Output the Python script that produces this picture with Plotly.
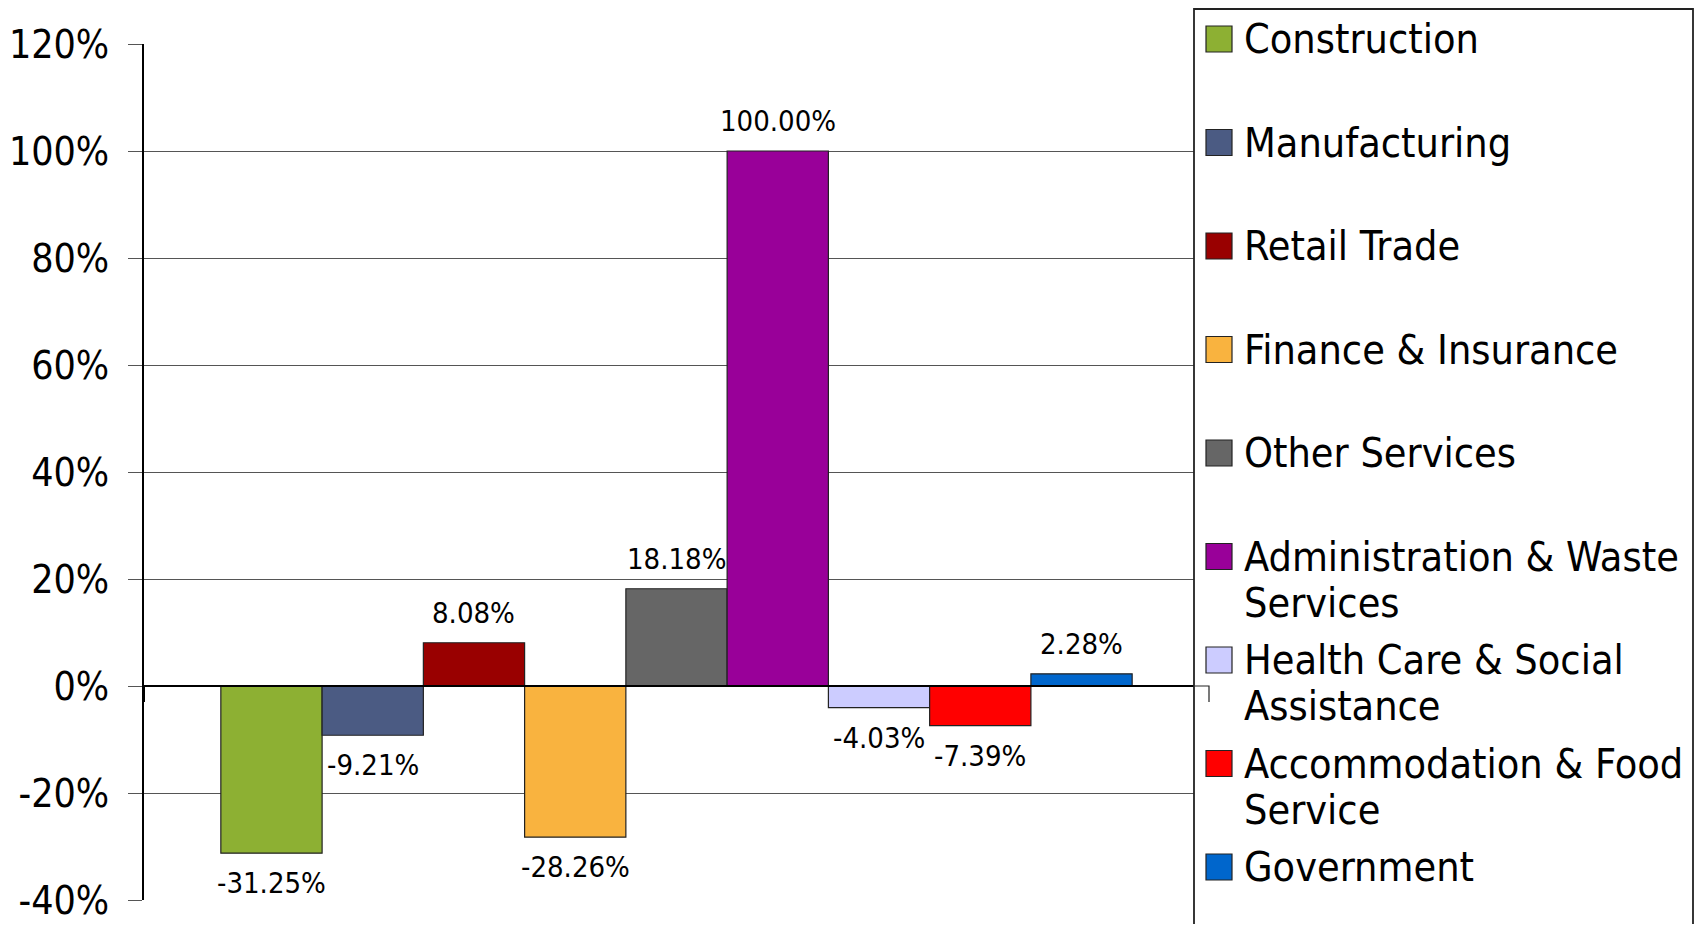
import textwrap
import plotly.graph_objects as go

# ---- data ----
categories = [
    "Construction",
    "Manufacturing",
    "Retail Trade",
    "Finance & Insurance",
    "Other Services",
    "Administration & Waste Services",
    "Health Care & Social Assistance",
    "Accommodation & Food Service",
    "Government",
]
values = [-31.25, -9.21, 8.08, -28.26, 18.18, 100.00, -4.03, -7.39, 2.28]
colors = ["#8DB033", "#4B5B83", "#990000", "#F9B33F", "#666666",
          "#990099", "#CCCCFF", "#FF0000", "#0066CC"]
y_ticks = [-40, -20, 0, 20, 40, 60, 80, 100, 120]
y_tick_labels = [f"{t}%" for t in y_ticks]

# ---- layout constants (pixels in the 1705x932 page) ----
OFF = 8                      # default page body margin
W, H = 1705 - 2 * OFF, 932 - 2 * OFF
L, R, T, B = 144, 1209, 44, 900
FONT = "Tahoma, 'DejaVu Sans Condensed', 'DejaVu Sans', sans-serif"


def px(x):
    return (x - L) / (R - L)


def py(y):
    return (B - y) / (B - T)


n = len(categories)
group_frac = 0.8557
total_units = n / group_frac
pad = (total_units - n) / 2
x_range = [-0.5 - pad, n - 0.5 + pad]
y_range = [y_ticks[0], y_ticks[-1]]
zero_pos = (0 - y_range[0]) / (y_range[1] - y_range[0])

fig = go.Figure()
for i, (cat, val, col) in enumerate(zip(categories, values, colors)):
    fig.add_trace(go.Bar(
        x=[i], y=[val], width=1, name=cat,
        marker=dict(color=col, line=dict(color="#222222", width=1.2)),
        showlegend=False,
        hovertemplate=f"{cat}: %{{y:.2f}}%<extra></extra>",
    ))

annotations = []
for i, val in enumerate(values):
    annotations.append(dict(
        x=i, y=val, xref="x", yref="y", text=f"{val:.2f}%",
        showarrow=False, yshift=30 if val >= 0 else -30,
        xanchor="center", yanchor="middle",
        font=dict(family=FONT, size=29, color="#000000"),
    ))

zero_y = B - zero_pos * (B - T)
shapes = [
    dict(type="rect", xref="paper", yref="paper",
         x0=px(1194), x1=px(1693), y0=py(960), y1=py(9),
         line=dict(color="#222222", width=1.8), fillcolor="#FFFFFF", layer="above"),
    dict(type="path", xref="paper", yref="paper",
         path=f"M {px(1195)} {py(zero_y)} L {px(1209)} {py(zero_y)} L {px(1209)} {py(zero_y + 16)}",
         line=dict(color="#222222", width=1.2), layer="above"),
]

row0, row_step, line_step = 39, 103.5, 46
for i, (cat, col) in enumerate(zip(categories, colors)):
    yc = row0 + i * row_step
    shapes.append(dict(
        type="rect", xref="paper", yref="paper",
        x0=px(1206), x1=px(1232), y0=py(yc + 13), y1=py(yc - 13),
        line=dict(color="#222222", width=1.2), fillcolor=col, layer="above",
    ))
    for k, line in enumerate(textwrap.wrap(cat, width=22)):
        annotations.append(dict(
            x=px(1242), y=py(yc + k * line_step), xref="paper", yref="paper",
            text=line, showarrow=False, xanchor="left", yanchor="middle",
            font=dict(family=FONT, size=41, color="#000000"),
        ))

fig.update_layout(
    width=W, height=H,
    margin=dict(l=L - OFF, r=W - (R - OFF), t=T - OFF, b=H - (B - OFF), pad=0,
                autoexpand=False),
    paper_bgcolor="#FFFFFF", plot_bgcolor="#FFFFFF",
    barmode="overlay",
    showlegend=False,
    annotations=annotations,
    shapes=shapes,
    xaxis=dict(
        range=x_range, anchor="free", position=zero_pos, automargin=False,
        showgrid=False, zeroline=False, showline=True, linecolor="#000000", linewidth=2,
        tickmode="array", tickvals=x_range, ticks="outside", ticklen=15,
        tickcolor="#000000", tickwidth=1, showticklabels=False, fixedrange=True,
    ),
    yaxis=dict(
        range=y_range, tickmode="array", tickvals=y_ticks, ticktext=y_tick_labels,
        automargin=False,
        showgrid=True, gridcolor="#555555", gridwidth=1, zeroline=False,
        showline=True, linecolor="#000000", linewidth=2,
        ticks="outside", ticklen=14, tickcolor="#555555", tickwidth=1,
        ticklabelstandoff=11,
        tickfont=dict(family=FONT, size=39, color="#000000"),
    ),
)

fig.write_html("out.html")
